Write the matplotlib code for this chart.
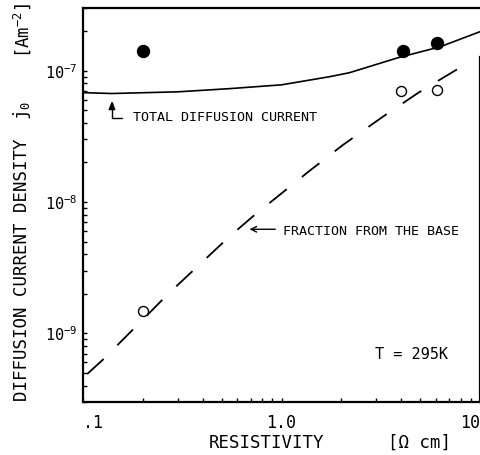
import matplotlib; matplotlib.use('Agg')
import matplotlib.pyplot as plt
from matplotlib.ticker import LogLocator, FixedLocator, FixedFormatter, NullFormatter

plt.rcParams['font.family'] = ['DejaVu Sans Mono', 'DejaVu Sans']
plt.rcParams['mathtext.fontset'] = 'custom'
plt.rcParams['mathtext.rm'] = 'DejaVu Sans Mono'
plt.rcParams['mathtext.it'] = 'DejaVu Sans Mono'
plt.rcParams['lines.scale_dashes'] = False

# total diffusion current (solid line)
total_x = [0.1, 0.14, 0.3, 0.55, 1.0, 1.75, 2.2, 3.9, 6.3, 10.0]
total_y = [6.8e-8, 6.7e-8, 6.9e-8, 7.3e-8, 7.8e-8, 9.0e-8, 9.65e-8, 1.26e-7, 1.52e-7, 1.98e-7]
# fraction from the base (dashed line)
base_x = [0.105, 0.126, 0.183, 0.268, 0.55, 0.72, 1.36, 2.04, 3.24, 4.9, 7.8]
base_y = [4.9e-10, 6.3e-10, 1.11e-9, 1.99e-9, 5.5e-9, 7.8e-9, 1.69e-8, 2.72e-8, 4.46e-8, 6.8e-8, 1.04e-7]
# measured points
full_x = [0.2, 4.1, 6.1]
full_y = [1.40e-7, 1.40e-7, 1.61e-7]
open_x = [0.2, 4.0, 6.1]
open_y = [1.47e-9, 7.0e-8, 7.1e-8]

xticks = [0.1, 1.0, 10.0]
xticklabels = ['.1', '1.0', '10']
yticks = [1e-9, 1e-8, 1e-7]
yticklabels = ['$10^{-9}$', '$10^{-8}$', '$10^{-7}$']

fig = plt.figure(figsize=(4.81, 4.55), dpi=100)
ax = fig.add_axes([83/481, 1-402/455, 397/481, 394/455])
ax.set_xscale('log'); ax.set_yscale('log')
ax.set_xlim(0.1, 10.0); ax.set_ylim(3e-10, 3e-7)

ax.plot(total_x, total_y, '-', color='k', lw=1.2)
ax.plot(base_x, base_y, color='k', lw=1.3, dashes=(16, 14))
ax.plot(full_x, full_y, 'o', color='k', ms=8.6)
ax.plot(open_x, open_y, 'o', mfc='white', mec='k', ms=7.2, mew=1.0)

for s in ['left', 'bottom', 'top', 'right']:
    ax.spines[s].set_linewidth(1.6)
ax.spines['right'].set_bounds(3e-10, 1.26e-7)

ax.xaxis.set_major_locator(FixedLocator(xticks))
ax.xaxis.set_major_formatter(FixedFormatter(xticklabels))
ax.xaxis.set_minor_locator(LogLocator(base=10, subs=range(2, 10)))
ax.xaxis.set_minor_formatter(NullFormatter())
ax.yaxis.set_major_locator(FixedLocator(yticks))
ax.yaxis.set_major_formatter(FixedFormatter(yticklabels))
ax.yaxis.set_minor_locator(LogLocator(base=10, subs=range(2, 10)))
ax.yaxis.set_minor_formatter(NullFormatter())
ax.tick_params(which='both', direction='in', top=False, right=False, length=3, width=1.0)
ax.tick_params(axis='x', which='major', labelsize=12, pad=9)
ax.tick_params(axis='y', which='major', labelsize=11, pad=4)
labs = ax.get_xticklabels()
labs[0].set_ha('left'); labs[-1].set_ha('right')

ax.text(0.179, 4.38e-8, 'TOTAL DIFFUSION CURRENT', fontsize=9.6, ha='left', va='center')
ax.annotate('', xy=(0.14, 5.9e-8), xytext=(0.157, 4.38e-8),
            arrowprops=dict(arrowstyle='-|>,head_length=0.5,head_width=0.2', color='k', lw=1.0,
                            shrinkA=0, shrinkB=0, connectionstyle='angle,angleA=180,angleB=90,rad=0'))
ax.text(1.017, 6.0e-9, 'FRACTION FROM THE BASE', fontsize=9.6, ha='left', va='center')
ax.annotate('', xy=(0.69, 6.2e-9), xytext=(0.93, 6.2e-9),
            arrowprops=dict(arrowstyle='->', color='k', lw=1.0, shrinkA=0, shrinkB=0))
ax.text(2.96, 6.9e-10, 'T = 295K', fontsize=11, ha='left', va='center')

fig.text(22/481, 1-270/455, 'DIFFUSION CURRENT DENSITY', rotation=90, fontsize=12.5, ha='center', va='center')
fig.text(22/481, 1-110/455, 'j$_0$', rotation=90, fontsize=12.5, ha='center', va='center')
fig.text(22/481, 1-30/455, '[Am$^{-2}$]', rotation=90, fontsize=12.5, ha='center', va='center')
fig.text(267/481, 1-443/455, 'RESISTIVITY', fontsize=12.5, ha='center', va='center')
fig.text(420/481, 1-443/455, '[\u03a9 cm]', fontsize=12.5, ha='center', va='center')

fig.savefig('out.png', dpi=100)
